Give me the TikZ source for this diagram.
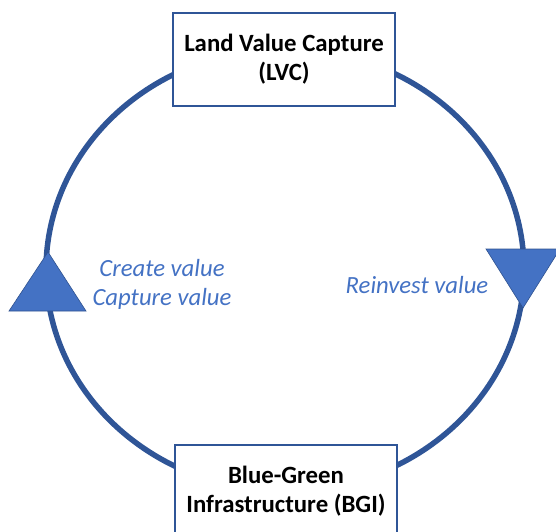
\documentclass[tikz,border=0pt]{standalone}
\usepackage{fontspec}
\setmainfont{Carlito}
\definecolor{ringblue}{HTML}{2F5597}
\definecolor{arrowblue}{HTML}{4472C4}
\definecolor{edgeblue}{HTML}{2F528F}
\begin{document}
\begin{tikzpicture}[x=1pt,y=-1pt,
  stagebox/.style={draw=ringblue, line width=2pt, fill=white, align=center,
    minimum width=222pt, minimum height=93pt, inner sep=0pt,
    font=\fontsize{24.8}{29}\selectfont\bfseries},
  note/.style={text=arrowblue, align=center, inner sep=0pt,
    font=\fontsize{24.7}{29}\selectfont\itshape},
  ring/.style={draw=ringblue, line width=5.5pt},
  flowhead/.style={fill=arrowblue, draw=edgeblue, line width=0.6pt}]
\useasboundingbox (0,0) rectangle (556,531);
% the cycle
\draw[ring] (285,270) ellipse [x radius=239, y radius=221];
% stages
\node[stagebox] (lvc) at (284,59.5) {Land Value Capture\\(LVC)};
\node[stagebox] (bgi) at (286,491.5) {Blue-Green\\Infrastructure (BGI)};
% direction heads on the ring
\fill[flowhead] (48,252) -- (86,311) -- (9,311) -- cycle;
\fill[flowhead] (486,249) -- (560,249) -- (523,308) -- cycle;
% labels
\node[note] (make) at (162,284.5) {Create value\\Capture value};
\node[note] (reinvest) at (417,285) {Reinvest value};
\end{tikzpicture}
\end{document}
